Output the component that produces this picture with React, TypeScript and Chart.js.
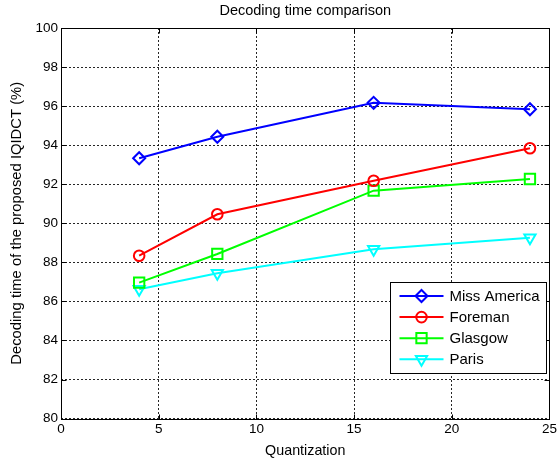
import React, { useEffect, useRef } from 'react';
import { Chart, registerables } from 'chart.js';
import { drawPoint } from 'chart.js/helpers';

Chart.register(...registerables);

const titleText = 'Decoding time comparison';
const xTitle = 'Quantization';
const yTitle = 'Decoding time of the proposed IQIDCT (%)';

const quantization = [4, 8, 16, 24];
const missAmerica = [93.33, 94.43, 96.17, 95.84];
const foreman = [88.34, 90.46, 92.18, 93.84];
const glasgow = [86.96, 88.43, 91.67, 92.27];
const paris = [86.62, 87.44, 88.67, 89.26];
const seriesNames = ['Miss America', 'Foreman', 'Glasgow', 'Paris'];

const xTicks = [0, 5, 10, 15, 20, 25];
const yTicks = [80, 82, 84, 86, 88, 90, 92, 94, 96, 98, 100];

const FONT = '"Liberation Sans", Arial, Helvetica, sans-serif';

const toPoints = (vals: number[]) => quantization.map((x, i) => ({ x, y: vals[i] }));

const framePlugin = {
  id: 'matlabFrame',
  afterDraw(chart: any) {
    const { ctx, chartArea } = chart;
    const { left, right, top, bottom } = chartArea;
    const xs = chart.scales.x;
    const ys = chart.scales.y;
    ctx.save();
    // title
    ctx.fillStyle = '#000';
    ctx.font = `14.5px ${FONT}`;
    ctx.textAlign = 'center';
    ctx.textBaseline = 'middle';
    ctx.fillText(titleText, (left + right) / 2, 11);

    // frame
    ctx.strokeStyle = '#000';
    ctx.lineWidth = 1;
    const L = Math.round(left) + 0.5;
    const R = Math.round(right) + 0.5;
    const T = Math.round(top) + 0.5;
    const B = Math.round(bottom) + 0.5;
    ctx.strokeRect(L, T, R - L, B - T);
    // inside ticks
    ctx.beginPath();
    xTicks.forEach((v) => {
      const px = Math.round(xs.getPixelForValue(v)) + 0.5;
      ctx.moveTo(px, B);
      ctx.lineTo(px, B - 5);
      ctx.moveTo(px, T);
      ctx.lineTo(px, T + 5);
    });
    yTicks.forEach((v) => {
      const py = Math.round(ys.getPixelForValue(v)) + 0.5;
      ctx.moveTo(L, py);
      ctx.lineTo(L + 5, py);
      ctx.moveTo(R, py);
      ctx.lineTo(R - 5, py);
    });
    ctx.stroke();

    // legend
    const w = 156;
    const h = 91;
    const x0 = Math.round(right - 3 - w) + 0.5;
    const y0 = Math.round(bottom - 45.5 - h) + 0.5;
    ctx.fillStyle = '#fff';
    ctx.fillRect(x0, y0, w, h);
    ctx.strokeStyle = '#000';
    ctx.lineWidth = 1;
    ctx.strokeRect(x0, y0, w, h);
    chart.data.datasets.forEach((ds: any, i: number) => {
      const cy = y0 + 13.5 + i * 21.1;
      ctx.strokeStyle = ds.borderColor;
      ctx.lineWidth = 2;
      ctx.beginPath();
      ctx.moveTo(x0 + 9, cy);
      ctx.lineTo(x0 + 53, cy);
      ctx.stroke();
      ctx.fillStyle = 'rgba(0,0,0,0)';
      drawPoint(
        ctx,
        {
          pointStyle: ds.pointStyle,
          rotation: ds.pointRotation || 0,
          radius: ds.pointRadius,
          borderWidth: 2,
        } as any,
        x0 + 31,
        cy
      );
      ctx.fillStyle = '#000';
      ctx.font = `15px ${FONT}`;
      ctx.textAlign = 'left';
      ctx.textBaseline = 'middle';
      ctx.fillText(ds.label, x0 + 59, cy + 0.5);
    });
    ctx.restore();
  },
};

function makeDataset(label: string, vals: number[], color: string, style: string, radius: number, rotation = 0) {
  return {
    label,
    data: toPoints(vals),
    borderColor: color,
    backgroundColor: 'rgba(0,0,0,0)',
    borderWidth: 2,
    pointStyle: style,
    pointRadius: radius,
    pointHoverRadius: radius,
    pointRotation: rotation,
    pointBorderColor: color,
    pointBackgroundColor: 'rgba(0,0,0,0)',
    pointBorderWidth: 2,
    tension: 0,
    fill: false,
  };
}

export default function App() {
  const canvasRef = useRef<HTMLCanvasElement | null>(null);

  useEffect(() => {
    document.body.style.margin = '0';
    const canvas = canvasRef.current;
    if (!canvas) return;
    const chart = new Chart(canvas, {
      type: 'line',
      data: {
        datasets: [
          makeDataset(seriesNames[0], missAmerica, '#0000ff', 'rectRot', 6),
          makeDataset(seriesNames[1], foreman, '#ff0000', 'circle', 5.3),
          makeDataset(seriesNames[2], glasgow, '#00ff00', 'rect', 7.3),
          makeDataset(seriesNames[3], paris, '#00ffff', 'triangle', 6.5, 180),
        ],
      },
      options: {
        responsive: false,
        animation: false,
        events: [],
        layout: { padding: { left: 0, right: 9, top: 28, bottom: 0 } },
        plugins: {
          legend: { display: false },
          title: { display: false },
          tooltip: { enabled: false },
        },
        scales: {
          x: {
            type: 'linear',
            min: xTicks[0],
            max: xTicks[xTicks.length - 1],
            afterBuildTicks: (scale: any) => {
              scale.ticks = xTicks.map((v) => ({ value: v }));
            },
            afterFit: (scale: any) => {
              scale.height = 43.4;
            },
            ticks: {
              color: '#000',
              font: { family: FONT, size: 13.5 },
              padding: 3,
              maxRotation: 0,
            },
            grid: {
              color: 'rgba(0,0,0,0.85)',
              lineWidth: 1,
              drawTicks: false,
            },
            border: { display: false, dash: [2, 2] },
            title: {
              display: true,
              text: xTitle,
              color: '#000',
              font: { family: FONT, size: 14.3 },
              padding: { top: 0, bottom: 2 },
            },
          },
          y: {
            type: 'linear',
            min: yTicks[0],
            max: yTicks[yTicks.length - 1],
            afterBuildTicks: (scale: any) => {
              scale.ticks = yTicks.map((v) => ({ value: v }));
            },
            afterFit: (scale: any) => {
              scale.width = 61;
            },
            ticks: {
              color: '#000',
              font: { family: FONT, size: 13.5 },
              padding: 3,
            },
            grid: {
              color: 'rgba(0,0,0,0.85)',
              lineWidth: 1,
              drawTicks: false,
            },
            border: { display: false, dash: [2, 2] },
            title: {
              display: true,
              text: yTitle,
              color: '#000',
              font: { family: FONT, size: 14.8 },
              padding: { top: 8, bottom: 0 },
            },
          },
        },
      },
      plugins: [framePlugin],
    } as any);
    return () => chart.destroy();
  }, []);

  return (
    <div style={{ width: 560, height: 462 }}>
      <canvas ref={canvasRef} width={560} height={462} style={{ display: 'block', width: 560, height: 462 }} />
    </div>
  );
}
